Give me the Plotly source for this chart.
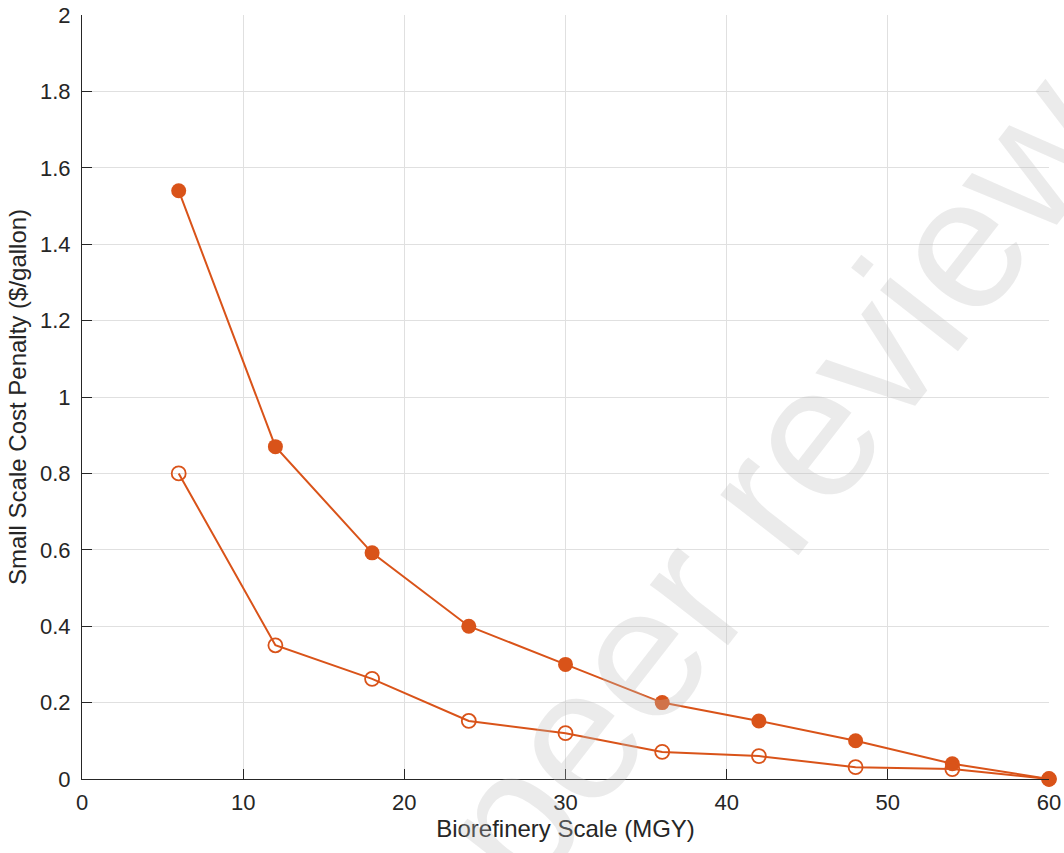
import plotly.graph_objects as go

scale_mgy = [6, 12, 18, 24, 30, 36, 42, 48, 54, 60]
penalty_filled = [1.54, 0.87, 0.592, 0.40, 0.30, 0.20, 0.152, 0.10, 0.04, 0.0]
penalty_open = [0.80, 0.35, 0.262, 0.152, 0.12, 0.071, 0.06, 0.031, 0.026, 0.0]
x_ticks = [0, 10, 20, 30, 40, 50, 60]
y_ticks = [0, 0.2, 0.4, 0.6, 0.8, 1, 1.2, 1.4, 1.6, 1.8, 2]
y_tick_labels = ["0", "0.2", "0.4", "0.6", "0.8", "1", "1.2", "1.4", "1.6", "1.8", "2"]

orange = "#D95319"
axis_col = "#262626"
font_family = "Liberation Sans, Arial, Helvetica, sans-serif"

fig = go.Figure()
fig.add_trace(go.Scatter(
    x=scale_mgy, y=penalty_filled, mode="lines+markers",
    line=dict(color=orange, width=2),
    marker=dict(symbol="circle", size=15, color=orange, line=dict(width=0)),
    showlegend=False, cliponaxis=False,
))
fig.add_trace(go.Scatter(
    x=scale_mgy, y=penalty_open, mode="lines+markers",
    line=dict(color=orange, width=2),
    marker=dict(symbol="circle-open", size=14, color=orange, line=dict(width=1.8)),
    showlegend=False, cliponaxis=False,
))

fig.update_layout(
    width=1064, height=853,
    margin=dict(l=82, r=15, t=15, b=74),
    paper_bgcolor="white", plot_bgcolor="white",
    font=dict(family=font_family, color=axis_col, size=22),
    xaxis=dict(
        range=[0, 60], tickvals=x_ticks, showgrid=True, gridcolor="#e0e0e0", gridwidth=1,
        showline=True, linecolor=axis_col, linewidth=1, mirror=False,
        ticks="inside", ticklen=10, tickcolor=axis_col, tickwidth=1,
        zeroline=False, tickfont=dict(size=22, color=axis_col), ticklabelstandoff=4,
        title=dict(text="Biorefinery Scale (MGY)", font=dict(size=24, color=axis_col), standoff=4),
        automargin=False,
    ),
    yaxis=dict(
        range=[0, 2], tickvals=y_ticks, ticktext=y_tick_labels, showgrid=True,
        gridcolor="#e0e0e0", gridwidth=1,
        showline=True, linecolor=axis_col, linewidth=1, mirror=False,
        ticks="inside", ticklen=10, tickcolor=axis_col, tickwidth=1,
        zeroline=False, tickfont=dict(size=22, color=axis_col), ticklabelstandoff=6,
        title=dict(text="Small Scale Cost Penalty ($/gallon)", font=dict(size=24, color=axis_col), standoff=6),
        automargin=False,
    ),
)

fig.add_annotation(
    xref="paper", yref="paper", x=0.7166, y=0.391,
    xanchor="center", yanchor="middle",
    text="peer review", textangle=-52, showarrow=False,
    font=dict(family=font_family, size=187, color="rgba(190,190,190,0.30)"),
)

# remove the default 8px page margin so the figure sits at the window's top-left corner
fig.write_html("out.html", config={"displayModeBar": False},
               post_script="document.body.style.margin='0';")
